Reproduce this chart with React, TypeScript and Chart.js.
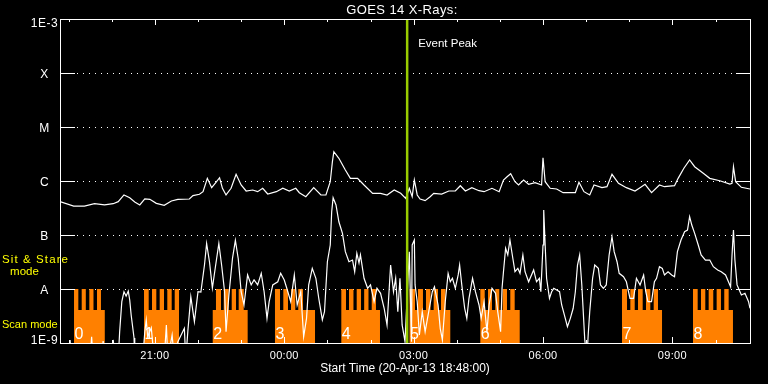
import React, { useEffect, useRef } from "react";
import { Chart, registerables } from "chart.js";

Chart.register(...registerables);

// ---------- text ----------
const TITLE = "GOES 14 X-Rays:";
const X_TITLE = "Start Time (20-Apr-13 18:48:00)";
const EVENT_LABEL = "Event Peak";
const STARE_LABEL = ["Sit & Stare", "mode"];
const SCAN_LABEL = "Scan mode";

// ---------- axes (x in minutes after 20-Apr-13 18:48) ----------
const X_MIN = 0;
const X_MAX = 960;
const majorTickMin = [132, 312, 492, 672, 852];
const majorTickLabels = ["21:00", "00:00", "03:00", "06:00", "09:00"];
const minorTickMin = [12, 72, 192, 252, 372, 432, 552, 612, 732, 792, 912];
const yTickValues = [1e-9, 1e-8, 1e-7, 1e-6, 1e-5, 1e-4, 1e-3];
const yTickLabels = ["1E-9", "A", "B", "C", "M", "X", "1E-3"];

// ---------- event ----------
const eventPeakMin = 483;

// ---------- GOES long channel (1-8 A), W/m^2 ----------
const longTimeMin = [
  0, 19, 34, 48, 62, 74, 81, 89, 97, 104,
  111, 118, 125, 134, 145, 155, 164, 180, 185, 194,
  199, 205, 211, 217, 222, 226, 231, 238, 245, 252,
  259, 268, 275, 282, 289, 301, 310, 319, 328, 333,
  342, 353, 363, 370, 376, 379, 381, 388, 397, 404,
  414, 423, 435, 446, 455, 465, 474, 481, 486, 490,
  493, 497, 501, 508, 515, 520, 531, 541, 550, 557,
  564, 573, 583, 590, 601, 611, 617, 622, 627, 633,
  638, 645, 652, 661, 670, 672, 675, 682, 691, 700,
  717, 722, 729, 737, 743, 754, 761, 768, 777, 788,
  800, 807, 814, 823, 834, 841, 855, 860, 868, 876,
  883, 895, 904, 918, 932, 935, 937, 940, 948, 960,
];
const longFlux = [
  4.14e-7, 3.44e-7, 3.44e-7, 3.8e-7, 3.6e-7, 3.8e-7, 4.14e-7, 5.51e-7, 4.91e-7, 4.08e-7,
  3.6e-7, 4.65e-7, 4.58e-7, 3.86e-7, 3.55e-7, 4.27e-7, 4.58e-7, 4.64e-7, 5.35e-7, 5.68e-7,
  6.34e-7, 1.12e-6, 7.52e-7, 9.46e-7, 1.15e-6, 7.33e-7, 5.51e-7, 7.33e-7, 1.33e-6, 8.43e-7,
  6.53e-7, 6.81e-7, 6.34e-7, 7.33e-7, 5.74e-7, 6.34e-7, 7.33e-7, 6.53e-7, 7.33e-7, 6.07e-7,
  5.12e-7, 7.52e-7, 5.51e-7, 5.51e-7, 9.71e-7, 2.28e-6, 3.49e-6, 2.63e-6, 1.6e-6, 1.12e-6,
  1.12e-6, 8.43e-7, 5.91e-7, 5.91e-7, 5.51e-7, 6.81e-7, 5.91e-7, 4.78e-7, 7.33e-7, 5.12e-7,
  1.04e-6, 5.51e-7, 4.64e-7, 4.32e-7, 5.12e-7, 5.91e-7, 5.74e-7, 6.53e-7, 6.53e-7, 8.18e-7,
  6.53e-7, 7.52e-7, 6.61e-7, 6.34e-7, 7.33e-7, 6.34e-7, 1.04e-6, 1.2e-6, 1.36e-6, 9.71e-7,
  8.43e-7, 1.04e-6, 8.69e-7, 9.31e-7, 8.43e-7, 2.7e-6, 9.71e-7, 7.33e-7, 7.11e-7, 6.07e-7,
  6.07e-7, 9.46e-7, 6.34e-7, 5.51e-7, 8.43e-7, 7.52e-7, 7.84e-7, 1.33e-6, 9.06e-7, 7.52e-7,
  6.53e-7, 7.52e-7, 8.69e-7, 6.07e-7, 8.43e-7, 7.84e-7, 8.18e-7, 1.12e-6, 1.72e-6, 2.45e-6,
  1.84e-6, 1.39e-6, 1.12e-6, 1.01e-6, 8.8e-7, 9.06e-7, 1.84e-6, 9.71e-7, 7.64e-7, 7.11e-7,
];

// ---------- GOES short channel (0.5-4 A), [minute, W/m^2] ----------
const shortSamples: [number, number][] = [
  [0, 5e-10], [12, 5e-10], [14, 1.14e-9], [16, 5e-10], [42, 5e-10], [44, 1.31e-9], [46, 5e-10],
  [58, 5e-10], [60, 1.09e-9], [62, 5e-10], [72, 5e-10], [74, 1.14e-9], [77, 5e-10], [81, 5e-10],
  [83, 1.62e-9], [86, 5.82e-9], [89, 8.91e-9], [92, 7.41e-9], [95, 9.14e-9], [97, 6.25e-9],
  [99, 3.3e-9], [103, 1.24e-9], [104, 5e-10], [115, 5e-10], [118, 1.62e-9], [120, 2.67e-9],
  [122, 1.31e-9], [127, 1.92e-9], [131, 5e-10], [145, 5e-10], [148, 2.16e-9], [150, 5e-10],
  [156, 1.41e-9], [159, 5e-10], [164, 1.06e-9], [173, 1.87e-9], [175, 5e-10], [178, 1.74e-9],
  [182, 7.2e-9], [187, 2.48e-9], [192, 8.91e-9], [196, 8.8e-9], [201, 2.78e-8], [204, 6.96e-8],
  [208, 3.16e-8], [212, 1.04e-8], [216, 2.45e-8], [221, 6.96e-8], [225, 2.67e-8], [229, 8.91e-9],
  [231, 1.62e-9], [235, 7.74e-9], [240, 3.71e-8], [244, 7.98e-8], [248, 3.64e-8], [252, 8.91e-9],
  [256, 5.06e-9], [261, 1.82e-8], [266, 1.19e-8], [270, 1.47e-8], [275, 1.19e-8], [280, 1.95e-8],
  [284, 8.91e-9], [288, 2.86e-9], [291, 5.82e-9], [296, 1.19e-8], [303, 1.36e-8], [307, 1.95e-8],
  [312, 1.47e-8], [317, 8.91e-9], [321, 5.82e-9], [326, 1.82e-8], [330, 5.06e-9], [335, 8.91e-9],
  [339, 1.31e-9], [343, 2.86e-9], [346, 1.19e-8], [351, 2.41e-8], [356, 1.58e-8], [360, 6.73e-9],
  [365, 2.67e-9], [368, 3.8e-9], [372, 3.2e-8], [376, 6.53e-8], [378, 2.7e-7], [380, 4.91e-7],
  [384, 3.6e-7], [388, 1.76e-7], [393, 1.07e-7], [397, 4.91e-8], [402, 3.2e-8], [407, 3.44e-8],
  [410, 2.09e-8], [413, 4.58e-8], [416, 3.03e-8], [418, 4.27e-8], [423, 1.58e-8], [428, 1.03e-8],
  [432, 1.19e-8], [437, 5.82e-9], [441, 1.03e-8], [446, 8.32e-9], [451, 4.4e-9], [455, 2.16e-9],
  [460, 2.78e-8], [464, 8.91e-9], [467, 1.58e-8], [470, 3.8e-9], [473, 1.58e-8], [476, 2.16e-9],
  [480, 1.06e-9], [486, 4.91e-8], [489, 1.06e-9], [490, 6.53e-8], [493, 8.07e-8], [494, 1.19e-8],
  [497, 5.82e-9], [500, 1.41e-9], [504, 3.8e-9], [508, 1.62e-9], [513, 3.8e-9], [518, 8.91e-9],
  [521, 1.1e-8], [526, 5.06e-9], [529, 1.87e-9], [532, 1.14e-9], [536, 5.82e-9], [540, 1.95e-8],
  [543, 1.36e-8], [546, 1.58e-8], [550, 1.03e-8], [554, 1.82e-8], [556, 2.78e-8], [559, 1.19e-8],
  [563, 4.4e-9], [566, 2.86e-9], [569, 6.73e-9], [574, 1.58e-8], [578, 8.91e-9], [583, 5.06e-9],
  [586, 2.86e-9], [590, 5.82e-9], [594, 1.62e-9], [597, 5.06e-9], [601, 1.03e-8], [606, 8.32e-9],
  [609, 3.8e-9], [613, 1.62e-9], [615, 1.03e-8], [617, 2.09e-8], [620, 5.68e-8], [623, 4.27e-8],
  [626, 8.07e-8], [630, 3.71e-8], [633, 2.09e-8], [637, 2.41e-8], [640, 1.95e-8], [644, 4.27e-8],
  [647, 2.09e-8], [652, 1.36e-8], [659, 2.25e-8], [663, 1.36e-8], [667, 1.58e-8], [669, 8.91e-9],
  [672, 6.53e-8], [673, 2.9e-7], [675, 6.53e-8], [677, 1.58e-8], [681, 6.73e-9], [684, 8.91e-9],
  [687, 1.03e-8], [691, 9.6e-9], [695, 8.91e-9], [698, 5.06e-9], [703, 2.86e-9], [706, 2.0e-9],
  [710, 2.86e-9], [714, 4.4e-9], [717, 8.91e-9], [720, 2.78e-8], [723, 4.27e-8], [726, 1.19e-8],
  [728, 3.8e-9], [730, 1.2e-9], [733, 5e-10], [735, 1.5e-9], [737, 3.8e-9], [741, 1.58e-8],
  [744, 2.78e-8], [749, 2.41e-8], [752, 1.19e-8], [756, 1.03e-8], [760, 1.19e-8], [764, 4.27e-8],
  [768, 9.31e-8], [771, 4.91e-8], [775, 3.2e-8], [778, 1.95e-8], [784, 1.69e-8], [788, 1.36e-8],
  [793, 6.73e-9], [798, 6.73e-9], [802, 1.58e-8], [807, 1.19e-8], [812, 1.82e-8], [815, 8.91e-9],
  [818, 5.82e-9], [823, 5.82e-9], [827, 1.36e-8], [830, 1.58e-8], [834, 2.59e-8], [838, 2.41e-8],
  [841, 1.82e-8], [846, 2.09e-8], [851, 1.82e-8], [855, 1.69e-8], [859, 4.91e-8], [864, 8.07e-8],
  [869, 1.15e-7], [873, 1.23e-7], [876, 2.18e-7], [879, 1.53e-7], [883, 1.07e-7], [888, 6.53e-8],
  [892, 4.27e-8], [898, 3.44e-8], [904, 3.44e-8], [909, 2.59e-8], [915, 2.25e-8], [920, 2.09e-8],
  [926, 1.82e-8], [930, 1.36e-8], [933, 1.1e-8], [935, 4.27e-8], [937, 1.24e-7], [939, 3.44e-8],
  [942, 1.19e-8], [948, 7.74e-9], [953, 8.32e-9], [958, 5.82e-9], [960, 4.4e-9],
];

// ---------- observing mode timeline: 0 = off, 1 = scan, 2 = sit & stare ----------
const modeLevels = [1e-9, 4.1e-9, 1e-8];
const modeTimeMin = [
  0,
  19.5, 25.5, 30.2, 35.9, 40.8, 46.6, 51.5, 57.0, 62.3,
  116.9, 123.4, 128.0, 134.0, 138.7, 144.7, 149.3, 155.4, 159.6, 165.6,
  212.5, 217.0, 224.0, 227.8, 234.7, 238.9, 244.9, 248.6, 255.6, 261.1,
  299.1, 306.1, 310.7, 317.2, 321.4, 327.4, 331.5, 338.1, 354.8,
  391.4, 397.9, 402.1, 408.3, 412.8, 418.8, 423.2, 429.2, 433.7, 439.6, 445.2,
  486.3, 493.9, 498.1, 505.0, 509.2, 515.5, 519.9, 525.9, 530.1, 536.4, 543.0,
  584.8, 590.9, 595.5, 601.0, 605.6, 611.2, 615.9, 621.9, 626.5, 632.6, 639.6,
  781.9, 788.9, 793.5, 799.6, 804.2, 810.7, 815.3, 821.3, 826.0, 832.0, 837.6,
  880.7, 887.2, 891.8, 897.8, 902.5, 908.9, 913.6, 919.6, 924.2, 930.3, 936.3,
  960,
];
const modeState = [
  0,
  2, 1, 2, 1, 2, 1, 2, 1, 0,
  2, 1, 2, 1, 2, 1, 2, 1, 2, 0,
  1, 2, 1, 2, 1, 2, 1, 2, 1, 0,
  2, 1, 2, 1, 2, 1, 2, 1, 0,
  2, 1, 2, 1, 2, 1, 2, 1, 2, 1, 0,
  2, 1, 2, 1, 2, 1, 2, 1, 2, 1, 0,
  2, 1, 2, 1, 2, 1, 2, 1, 2, 1, 0,
  2, 1, 2, 1, 2, 1, 2, 1, 2, 1, 0,
  2, 1, 2, 1, 2, 1, 2, 1, 2, 1, 0,
  0,
];
const blockLabels = ["0", "1", "2", "3", "4", "5", "6", "7", "8"];

const FONT = "'Liberation Sans', Arial, sans-serif";

function setSpacing(ctx: CanvasRenderingContext2D, px: number) {
  (ctx as any).letterSpacing = px + "px";
}

const overlayPlugin = {
  id: "goesOverlay",
  beforeDatasetsDraw(chart: any) {
    const { ctx, chartArea: a, scales } = chart;
    const y = scales.y;
    ctx.save();
    ctx.fillStyle = "#ffffff";
    for (let i = 1; i < yTickValues.length - 1; i++) {
      const py = Math.round(y.getPixelForValue(yTickValues[i]));
      for (let px = a.left + 17; px < a.right - 14; px += 6) ctx.fillRect(px, py, 1, 1);
    }
    ctx.restore();
  },
  afterDatasetsDraw(chart: any) {
    const { ctx, chartArea: a, scales } = chart;
    const x = scales.x;
    const y = scales.y;
    ctx.save();
    ctx.fillStyle = "#ffffff";
    // frame
    ctx.fillRect(a.left, a.top, a.right - a.left + 1, 1);
    ctx.fillRect(a.left, a.bottom, a.right - a.left + 1, 1);
    ctx.fillRect(a.left, a.top, 1, a.bottom - a.top + 1);
    ctx.fillRect(a.right, a.top, 1, a.bottom - a.top + 1);
    // y decade ticks
    for (const v of yTickValues) {
      const py = Math.round(y.getPixelForValue(v));
      ctx.fillRect(a.left, py, 15, 1);
      ctx.fillRect(a.right - 14, py, 15, 1);
    }
    // x ticks
    for (const t of minorTickMin) {
      const px = Math.round(x.getPixelForValue(t));
      ctx.fillRect(px, a.top, 1, 3);
      ctx.fillRect(px, a.bottom - 3, 1, 3);
    }
    for (const t of majorTickMin) {
      const px = Math.round(x.getPixelForValue(t));
      ctx.fillRect(px, a.top, 1, 6);
      ctx.fillRect(px, a.bottom - 6, 1, 6);
    }

    // y labels
    ctx.font = `12px ${FONT}`;
    ctx.textAlign = "center";
    ctx.textBaseline = "alphabetic";
    setSpacing(ctx, 0.5);
    yTickValues.forEach((v, i) => {
      const py = y.getPixelForValue(v);
      let base = py + 4.7;
      if (base < a.top + 8.3) base = a.top + 8.3;
      if (base > a.bottom + 0.7) base = a.bottom + 0.7;
      ctx.fillText(yTickLabels[i], 44.5, base);
    });

    // x labels
    ctx.font = `11px ${FONT}`;
    setSpacing(ctx, 0.3);
    majorTickMin.forEach((t, i) => {
      ctx.fillText(majorTickLabels[i], x.getPixelForValue(t), a.bottom + 15.7);
    });
    ctx.font = `12px ${FONT}`;
    setSpacing(ctx, 0);
    ctx.fillText(X_TITLE, (a.left + a.right) / 2, a.bottom + 29);

    // title
    ctx.font = `13px ${FONT}`;
    setSpacing(ctx, 0.4);
    ctx.fillText(TITLE, 402, 14);

    // event peak
    ctx.textAlign = "left";
    ctx.font = `11.5px ${FONT}`;
    setSpacing(ctx, 0);
    ctx.fillText(EVENT_LABEL, x.getPixelForValue(eventPeakMin) + 11, 46.7);

    // mode labels
    ctx.fillStyle = "#ffff00";
    ctx.font = `11.5px ${FONT}`;
    setSpacing(ctx, 1.1);
    ctx.fillText(STARE_LABEL[0], 2, 263);
    ctx.textAlign = "center";
    setSpacing(ctx, 0);
    ctx.fillText(STARE_LABEL[1], 24.5, 274.7);
    ctx.textAlign = "left";
    ctx.font = `11px ${FONT}`;
    ctx.fillText(SCAN_LABEL, 2, 328);

    // block numbers
    ctx.fillStyle = "#ffffff";
    ctx.font = `16px ${FONT}`;
    let b = 0;
    for (let i = 1; i < modeTimeMin.length; i++) {
      if (modeState[i - 1] === 0 && modeState[i] !== 0 && b < blockLabels.length) {
        ctx.fillText(blockLabels[b], x.getPixelForValue(modeTimeMin[i]) + 0.5, a.bottom - 4);
        b++;
      }
    }
    ctx.restore();
  },
};

export default function App() {
  const ref = useRef<HTMLCanvasElement | null>(null);

  useEffect(() => {
    document.body.style.margin = "0";
    document.body.style.background = "#000";
    const canvas = ref.current;
    if (!canvas) return;

    const longData = longTimeMin.map((t, i) => ({ x: t, y: longFlux[i] }));
    const shortData = shortSamples.map(([t, v]) => ({ x: t, y: v }));
    const modeData = modeTimeMin.map((t, i) => ({ x: t, y: modeLevels[modeState[i]] }));
    const eventData = [
      { x: eventPeakMin, y: yTickValues[0] },
      { x: eventPeakMin, y: yTickValues[yTickValues.length - 1] },
    ];

    const chart = new Chart(canvas, {
      type: "line",
      data: {
        datasets: [
          {
            label: "Event Peak",
            data: eventData,
            borderColor: "#99cc00",
            borderWidth: 2.5,
            pointRadius: 0,
            order: 0,
          },
          {
            label: "1-8 A",
            data: longData,
            borderColor: "#ffffff",
            borderWidth: 1.2,
            pointRadius: 0,
            order: 1,
          },
          {
            label: "0.5-4 A",
            data: shortData,
            borderColor: "#ffffff",
            borderWidth: 1.2,
            pointRadius: 0,
            order: 1,
          },
          {
            label: "Mode",
            data: modeData,
            stepped: true,
            fill: "start",
            backgroundColor: "#ff8000",
            borderColor: "rgba(0,0,0,0)",
            borderWidth: 0,
            pointRadius: 0,
            order: 3,
          },
        ],
      },
      options: {
        animation: false,
        responsive: false,
        maintainAspectRatio: false,
        layout: { padding: { left: 60, right: 18, top: 19, bottom: 41 } },
        plugins: {
          legend: { display: false },
          tooltip: { enabled: false },
          title: { display: false },
        },
        elements: { line: { tension: 0 } },
        scales: {
          x: { type: "linear", min: X_MIN, max: X_MAX, display: false },
          y: { type: "logarithmic", min: yTickValues[0], max: yTickValues[yTickValues.length - 1], display: false },
        },
      },
      plugins: [overlayPlugin],
    } as any);

    return () => chart.destroy();
  }, []);

  return (
    <div style={{ position: "fixed", left: 0, top: 0, width: 768, height: 384, background: "#000" }}>
      <canvas ref={ref} width={768} height={384} style={{ display: "block", width: 768, height: 384 }} />
    </div>
  );
}
